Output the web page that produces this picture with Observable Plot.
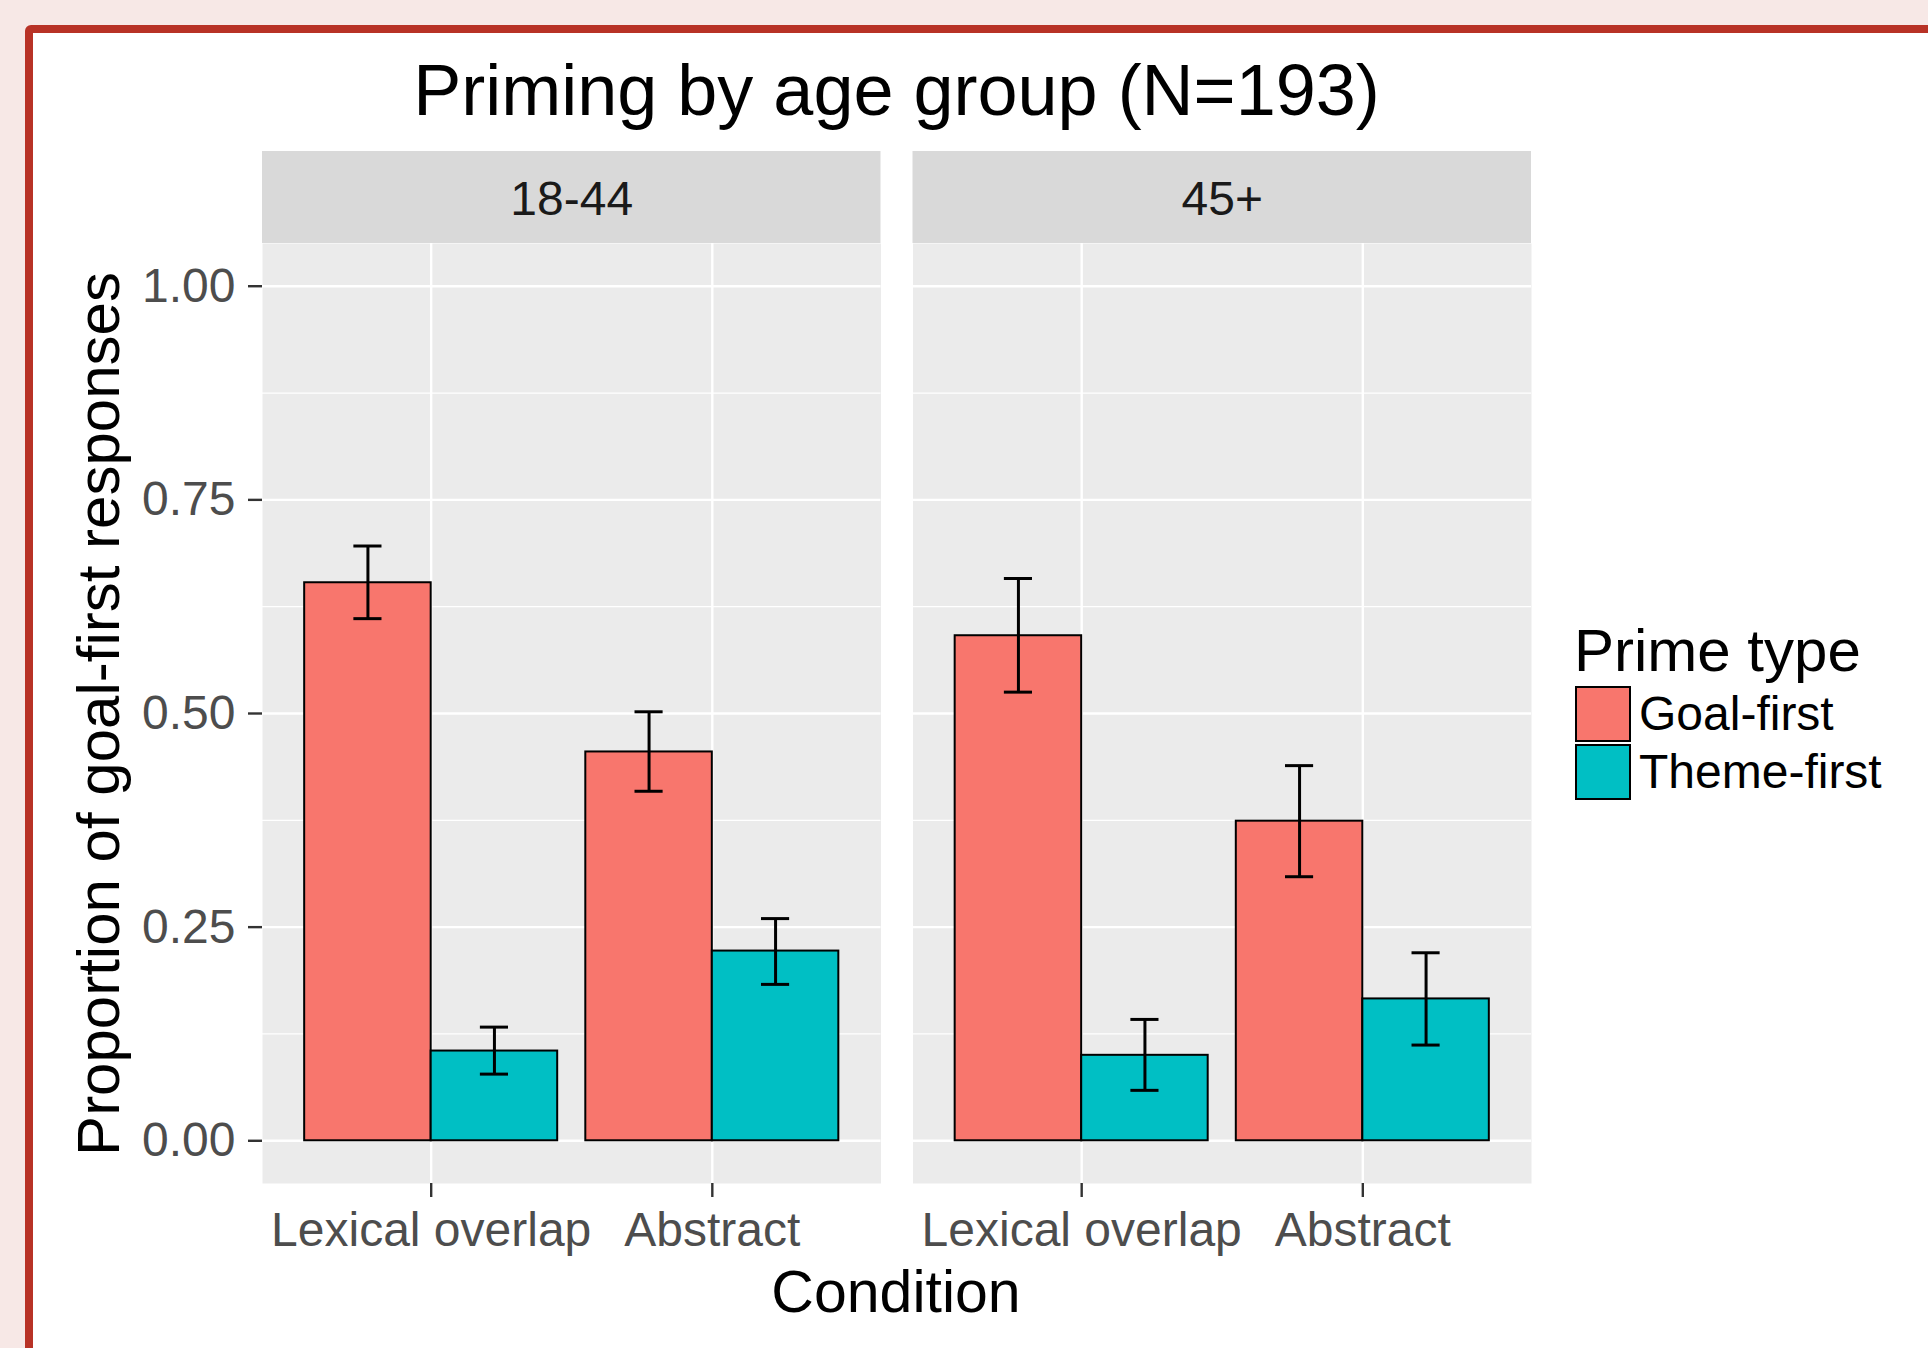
<!DOCTYPE html>
<html>
<head>
<meta charset="utf-8">
<script src="https://cdn.jsdelivr.net/npm/d3@7"></script>
<script src="https://cdn.jsdelivr.net/npm/@observablehq/plot@0.6"></script>
<style>
  html, body { margin: 0; padding: 0; width: 1928px; height: 1348px; overflow: hidden; background: #f7e8e6; font-family: "Liberation Sans", Arial, sans-serif; }
  #card { position: absolute; left: 25px; top: 25px; width: 2000px; height: 1400px; border: 8px solid #b83226; border-radius: 6px; background: #ffffff; }
  #title { position: absolute; left: 0; width: 1793px; top: 54px; font-size: 72px; line-height: 72px; text-align: center; color: #000; white-space: nowrap; }
  #chart { position: absolute; left: 40px; top: 140px; }
  .ltitle { position: absolute; left: 1574px; top: 621px; font-size: 60px; line-height: 60px; color: #000; white-space: nowrap; }
  .lkey { position: absolute; left: 1575px; width: 56px; height: 56px; box-sizing: border-box; border: 2.5px solid #000; }
  .llab { position: absolute; left: 1639px; font-size: 48px; line-height: 48px; color: #000; white-space: nowrap; }
</style>
</head>
<body>
<div id="card"></div>
<div id="title">Priming by age group (N=193)</div>
<div id="chart"></div>
<div id="legend"></div>
<script>
// ---- data ----
const ageGroups = ["18-44", "45+"];
const conditions = ["Lexical overlap", "Abstract"];
const primeTypes = ["Goal-first", "Theme-first"];
const primeColors = ["#F8766D", "#00BFC4"];
const yTicks = [0, 0.25, 0.5, 0.75, 1.0];
const yMinorTicks = [0.125, 0.375, 0.625, 0.875];

// order: Lexical/Goal, Lexical/Theme, Abstract/Goal, Abstract/Theme
const mean_18_44  = [0.653, 0.105, 0.455, 0.222];
const lower_18_44 = [0.611, 0.078, 0.409, 0.183];
const upper_18_44 = [0.696, 0.133, 0.502, 0.260];
const mean_45p    = [0.591, 0.100, 0.374, 0.166];
const lower_45p   = [0.525, 0.059, 0.309, 0.112];
const upper_45p   = [0.658, 0.142, 0.439, 0.220];

const meanByAge  = [mean_18_44, mean_45p];
const lowerByAge = [lower_18_44, lower_45p];
const upperByAge = [upper_18_44, upper_45p];

// dodge (width 0.9, two groups)
const dodge = 0.9, half = dodge / 4;
const rows = [];
ageGroups.forEach((age, a) => {
  conditions.forEach((cond, c) => {
    primeTypes.forEach((prime, p) => {
      const k = c * 2 + p;
      rows.push({
        age, condition: cond, prime,
        mean: meanByAge[a][k], lo: lowerByAge[a][k], hi: upperByAge[a][k],
        pos: (c + 1) + (p === 0 ? -half : half)
      });
    });
  });
});

const stripTop = 1.05 + 92 / 854.5;
const axisStyle = {stroke: "#333333", strokeWidth: 2.4, fill: "#4d4d4d", fontSize: 48, tickSize: 14, label: null};

const plot = Plot.plot({
  width: 1511, height: 1208,
  marginLeft: 222, marginRight: 20, marginTop: 103, marginBottom: 165,
  style: {fontFamily: "Liberation Sans, Arial, sans-serif", background: "transparent", overflow: "visible"},
  fx: {domain: ageGroups, paddingInner: 0.0492, paddingOuter: 0, axis: null, round: false},
  x: {domain: [0.4, 2.6]},
  y: {domain: [-0.05, 1.05]},
  color: {domain: primeTypes, range: primeColors},
  marks: [
    Plot.frame({fill: "#ebebeb", stroke: "none"}),
    Plot.ruleY(yMinorTicks, {stroke: "#ffffff", strokeWidth: 1.2}),
    Plot.ruleY(yTicks, {stroke: "#ffffff", strokeWidth: 2.4}),
    Plot.ruleX([1, 2], {stroke: "#ffffff", strokeWidth: 2.4}),
    Plot.rectY(rows, {fx: "age", x1: d => d.pos - half, x2: d => d.pos + half, y1: 0, y2: "mean", fill: "prime", stroke: "#000", strokeWidth: 2}),
    Plot.ruleX(rows, {fx: "age", x: "pos", y1: "lo", y2: "hi", stroke: "#000", strokeWidth: 3}),
    Plot.ruleY(rows, {fx: "age", x1: d => d.pos - 0.05, x2: d => d.pos + 0.05, y: "hi", stroke: "#000", strokeWidth: 3}),
    Plot.ruleY(rows, {fx: "age", x1: d => d.pos - 0.05, x2: d => d.pos + 0.05, y: "lo", stroke: "#000", strokeWidth: 3}),
    Plot.rect(ageGroups, {fx: d => d, x1: 0.4, x2: 2.6, y1: 1.05, y2: stripTop, fill: "#d9d9d9"}),
    Plot.text(ageGroups, {fx: d => d, x: 1.5, y: (1.05 + stripTop) / 2, text: d => d, fontSize: 48, fill: "#1a1a1a", dy: 2}),
    Plot.axisY({...axisStyle, ticks: yTicks, tickFormat: d3.format(".2f"), tickPadding: 13}),
    Plot.axisX({...axisStyle, ticks: [1, 2], tickFormat: i => conditions[i - 1], tickPadding: 14})
  ]
});

const svg = d3.select(plot);
svg.append("text")
  .attr("transform", "translate(79,574) rotate(-90)")
  .attr("text-anchor", "middle")
  .attr("font-size", 60)
  .attr("fill", "#000")
  .text("Proportion of goal-first responses");
svg.append("text")
  .attr("x", 856).attr("y", 1172)
  .attr("text-anchor", "middle")
  .attr("font-size", 59)
  .attr("fill", "#000")
  .text("Condition");

document.getElementById("chart").appendChild(plot);

// ---- legend ----
const legend = d3.select("#legend");
legend.append("div").attr("class", "ltitle").text("Prime type");
primeTypes.forEach((t, i) => {
  legend.append("div").attr("class", "lkey")
    .style("top", (686 + i * 58) + "px")
    .style("background", primeColors[i]);
  legend.append("div").attr("class", "llab")
    .style("top", (690 + i * 58) + "px")
    .text(t);
});
</script>
</body>
</html>
